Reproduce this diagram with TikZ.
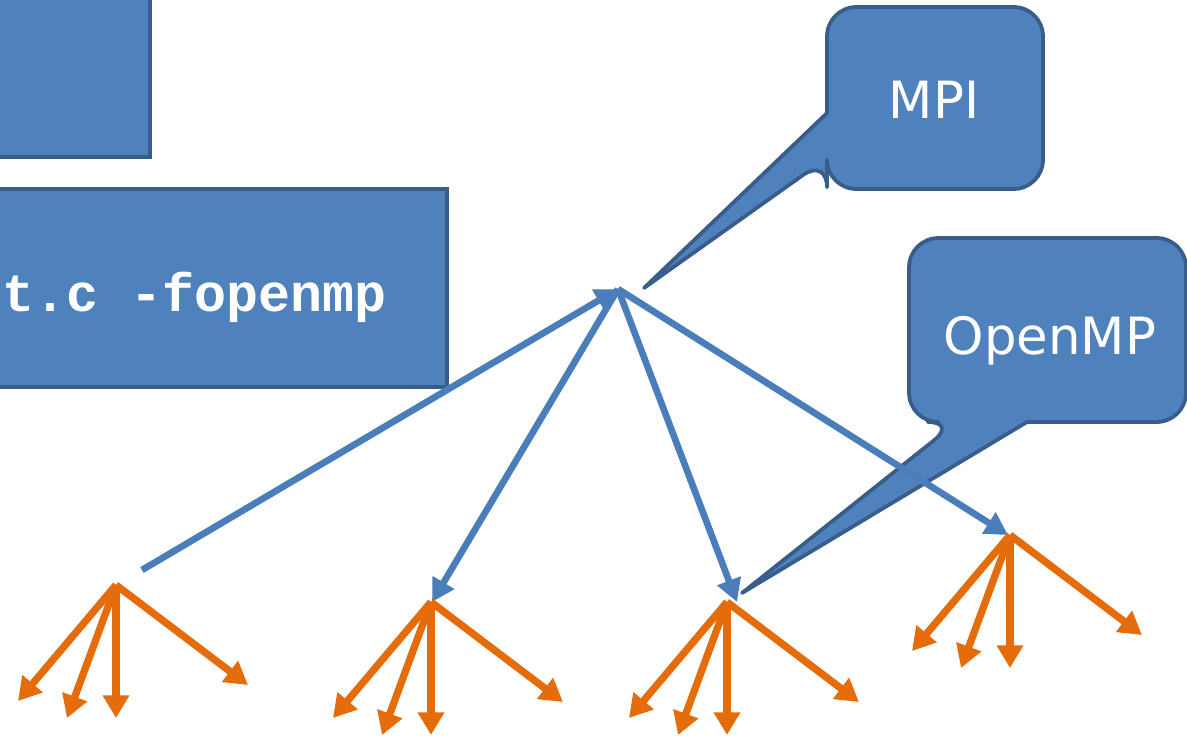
\documentclass[tikz,border=0pt]{standalone}
\usepackage{fontspec}
\usepackage{tikz}
\usetikzlibrary{arrows.meta}
\newfontfamily\calloutfont{DejaVu Sans}
\newfontfamily\codefont{Liberation Mono}
\definecolor{boxblue}{RGB}{79,129,189}
\definecolor{boxedge}{RGB}{56,93,138}
\definecolor{linkblue}{RGB}{74,126,187}
\definecolor{threadorange}{RGB}{228,108,10}

\begin{document}
\begin{tikzpicture}[x=0.75pt,y=0.75pt,yscale=-1,xscale=1,
  procarrow/.style={draw=linkblue,line width=5pt,-{Triangle[length=17pt,width=18pt]}},
  threadarrow/.style={draw=threadorange,line width=5.5pt,-{Triangle[length=17pt,width=19pt]}},
  bluebox/.style={fill=boxblue,draw=boxedge,line width=2.8pt},
  callouttext/.style={text=white,inner sep=0.75pt,font=\calloutfont\fontsize{38.5}{46}\selectfont}]
\useasboundingbox (0,0) rectangle (1187,736);

%Shape: Rectangle
\draw [bluebox] (-20,-20) rectangle (150,157) ;
%Shape: Rectangle
\draw [bluebox] (-20,189) rectangle (447,387) ;
% Text Node
\node [anchor=base west,inner sep=0pt,text=white,font=\codefont\bfseries\fontsize{40}{46}\selectfont] (cmd) at (2,311) {t.c -fopenmp};

%Shape: Callout
\coordinate (mpitip) at (644,288);
\draw [bluebox,line join=round] (827,113) [rounded corners=22pt] |- (1043,7) |- (827,189) -- (827,158) [sharp corners] -- (mpitip) -- cycle ;
% Text Node
\node [callouttext] (mpi) at (934,100) {MPI};

%Shape: Callout
\coordinate (omptip) at (742,593);
\draw [bluebox,line join=round] (1027,422) [rounded corners=22pt] -| (1186,238) -| (909,422) -- (957,422) [sharp corners] -- (omptip) -- cycle ;
% Text Node
\node [callouttext,anchor=base] (omp) at (1050,354) {OpenMP};

%Straight Lines
\coordinate (root) at (618,289);
\coordinate (src1) at (142,570);
\draw [procarrow] (src1) -- (root) ;
\foreach \i/\x/\y in {2/432/602,3/737/602,4/1008/535}
  \draw [procarrow] (root) -- (\x,\y) coordinate (dst\i) ;

%Straight Lines
\foreach \i/\x/\y in {1/116/585,2/431/602,3/727/602,4/1010/535} {
  \coordinate (proc\i) at (\x,\y);
  \foreach \j/\dx/\dy in {a/-98/116,b/-49/133,c/0/133,d/132/100}
    \draw [threadarrow] (proc\i) -- ++(\dx,\dy) coordinate (thr\i\j) ;
}

\end{tikzpicture}
\end{document}
